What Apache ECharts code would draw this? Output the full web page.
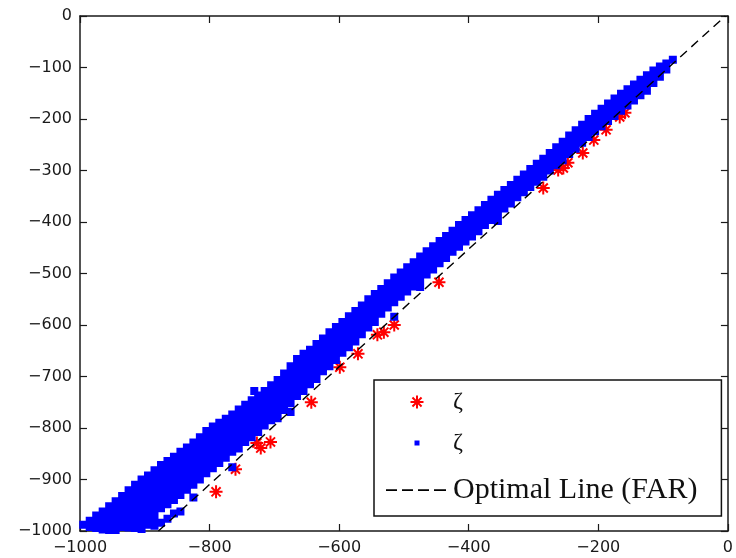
<!DOCTYPE html>
<html>
<head>
<meta charset="utf-8">
<script src="https://cdn.jsdelivr.net/npm/echarts@6.0.0/dist/echarts.min.js"></script>
<style>
  html, body { margin: 0; padding: 0; background: #fff; }
  #chart { width: 736px; height: 558px; }
</style>
</head>
<body>
<div id="chart"></div>
<script>
// Axis ranges and tick steps
const xRange = [-1000, 0];
const yRange = [-1000, 0];
const xStep = 200;
const yStep = 100;

// Red asterisk points
const redPoints = [
  [-790,-924],[-760,-880],[-727,-829],[-721,-839],[-706,-827],[-643,-750],
  [-599,-682],[-571,-656],[-541,-619],[-531,-614],[-515,-600],[-446,-517],
  [-285,-334],[-262,-299],[-254,-295],[-247,-285],[-224,-266],[-207,-241],
  [-188,-221],[-167,-196],[-159,-188]
];

// Blue dot cloud
const bluePoints = [
  [-995,-988],
  [-985,-980],[-985,-992],
  [-975,-970],[-975,-982],[-975,-994],
  [-965,-962],[-965,-974],[-965,-986],[-965,-997],
  [-955,-952],[-955,-964],[-955,-976],[-955,-988],[-955,-998],
  [-945,-942],[-945,-954],[-945,-966],[-945,-978],[-945,-990],[-945,-998],
  [-935,-932],[-935,-944],[-935,-956],[-935,-968],[-935,-980],[-935,-992],
  [-925,-921],[-925,-933],[-925,-945],[-925,-957],[-925,-969],[-925,-981],[-925,-993],
  [-915,-910],[-915,-922],[-915,-934],[-915,-946],[-915,-958],[-915,-970],[-915,-982],[-915,-994],
  [-905,-900],[-905,-912],[-905,-924],[-905,-936],[-905,-948],[-905,-960],[-905,-972],[-905,-984],[-905,-996],
  [-895,-892],[-895,-904],[-895,-916],[-895,-928],[-895,-940],[-895,-952],[-895,-964],[-895,-976],[-895,-988],
  [-885,-882],[-885,-894],[-885,-906],[-885,-918],[-885,-930],[-885,-942],[-885,-954],[-885,-966],[-885,-978],[-885,-990],
  [-875,-872],[-875,-884],[-875,-896],[-875,-908],[-875,-920],[-875,-932],[-875,-944],[-875,-956],[-875,-984],
  [-865,-864],[-865,-876],[-865,-888],[-865,-900],[-865,-912],[-865,-924],[-865,-936],[-865,-948],[-865,-976],
  [-855,-856],[-855,-868],[-855,-880],[-855,-892],[-855,-904],[-855,-916],[-855,-928],[-855,-940],[-855,-966],
  [-845,-846],[-845,-858],[-845,-870],[-845,-882],[-845,-894],[-845,-906],[-845,-918],[-845,-930],[-845,-962],
  [-835,-838],[-835,-850],[-835,-862],[-835,-874],[-835,-886],[-835,-898],[-835,-910],[-835,-920],
  [-825,-828],[-825,-840],[-825,-852],[-825,-864],[-825,-876],[-825,-888],[-825,-900],[-825,-910],[-825,-935],
  [-815,-818],[-815,-830],[-815,-842],[-815,-854],[-815,-866],[-815,-878],[-815,-890],[-815,-900],
  [-805,-806],[-805,-818],[-805,-830],[-805,-842],[-805,-854],[-805,-866],[-805,-878],[-805,-888],
  [-795,-797],[-795,-809],[-795,-821],[-795,-833],[-795,-845],[-795,-857],[-795,-869],[-795,-878],
  [-785,-790],[-785,-802],[-785,-814],[-785,-826],[-785,-838],[-785,-850],[-785,-862],[-785,-868],
  [-775,-782],[-775,-794],[-775,-806],[-775,-818],[-775,-830],[-775,-842],[-775,-854],[-775,-858],
  [-765,-774],[-765,-786],[-765,-798],[-765,-810],[-765,-822],[-765,-834],[-765,-846],[-765,-876],
  [-755,-764],[-755,-776],[-755,-788],[-755,-800],[-755,-812],[-755,-824],[-755,-836],[-755,-840],
  [-745,-755],[-745,-767],[-745,-779],[-745,-791],[-745,-803],[-745,-815],[-745,-827],
  [-735,-746],[-735,-758],[-735,-770],[-735,-782],[-735,-794],[-735,-806],[-735,-818],
  [-731,-728],
  [-725,-737],[-725,-749],[-725,-761],[-725,-773],[-725,-785],[-725,-797],[-725,-808],
  [-715,-728],[-715,-740],[-715,-752],[-715,-764],[-715,-776],[-715,-788],[-715,-795],
  [-705,-717],[-705,-729],[-705,-741],[-705,-753],[-705,-765],[-705,-777],[-705,-785],
  [-695,-707],[-695,-719],[-695,-731],[-695,-743],[-695,-755],[-695,-767],[-695,-781],
  [-685,-694],[-685,-706],[-685,-718],[-685,-730],[-685,-742],[-685,-754],[-685,-765],
  [-675,-680],[-675,-692],[-675,-704],[-675,-716],[-675,-728],[-675,-740],[-675,-752],[-675,-769],
  [-665,-666],[-665,-678],[-665,-690],[-665,-702],[-665,-714],[-665,-726],[-665,-738],
  [-655,-656],[-655,-668],[-655,-680],[-655,-692],[-655,-704],[-655,-716],[-655,-728],
  [-645,-648],[-645,-660],[-645,-672],[-645,-684],[-645,-696],[-645,-708],[-645,-715],
  [-635,-637],[-635,-649],[-635,-661],[-635,-673],[-635,-685],[-635,-697],[-635,-705],
  [-625,-626],[-625,-638],[-625,-650],[-625,-662],[-625,-674],[-625,-686],[-625,-690],
  [-615,-614],[-615,-626],[-615,-638],[-615,-650],[-615,-662],[-615,-674],[-615,-680],
  [-605,-604],[-605,-616],[-605,-628],[-605,-640],[-605,-652],[-605,-664],[-605,-668],
  [-595,-594],[-595,-606],[-595,-618],[-595,-630],[-595,-642],[-595,-654],
  [-585,-583],[-585,-595],[-585,-607],[-585,-619],[-585,-631],[-585,-643],
  [-575,-573],[-575,-585],[-575,-597],[-575,-609],[-575,-621],[-575,-632],
  [-565,-562],[-565,-574],[-565,-586],[-565,-598],[-565,-610],[-565,-618],
  [-555,-550],[-555,-562],[-555,-574],[-555,-586],[-555,-598],[-555,-605],
  [-545,-540],[-545,-552],[-545,-564],[-545,-576],[-545,-588],[-545,-594],
  [-535,-530],[-535,-542],[-535,-554],[-535,-566],[-535,-578],
  [-525,-519],[-525,-531],[-525,-543],[-525,-555],[-525,-566],
  [-515,-508],[-515,-520],[-515,-532],[-515,-544],[-515,-556],[-515,-584],
  [-505,-498],[-505,-510],[-505,-522],[-505,-534],[-505,-545],
  [-495,-488],[-495,-500],[-495,-512],[-495,-524],[-495,-535],
  [-485,-478],[-485,-490],[-485,-502],[-485,-514],[-485,-525],
  [-475,-467],[-475,-479],[-475,-491],[-475,-503],[-475,-512],[-475,-526],
  [-465,-457],[-465,-469],[-465,-481],[-465,-493],[-465,-502],
  [-455,-447],[-455,-459],[-455,-471],[-455,-483],[-455,-492],
  [-445,-437],[-445,-449],[-445,-461],[-445,-473],[-445,-480],
  [-435,-427],[-435,-439],[-435,-451],[-435,-463],[-435,-470],
  [-425,-417],[-425,-429],[-425,-441],[-425,-453],[-425,-458],
  [-415,-406],[-415,-418],[-415,-430],[-415,-442],[-415,-448],
  [-405,-396],[-405,-408],[-405,-420],[-405,-432],[-405,-438],
  [-395,-387],[-395,-399],[-395,-411],[-395,-423],[-395,-428],
  [-385,-377],[-385,-389],[-385,-401],[-385,-413],[-385,-418],
  [-375,-367],[-375,-379],[-375,-391],[-375,-403],[-375,-406],
  [-365,-357],[-365,-369],[-365,-381],[-365,-393],[-365,-396],
  [-355,-347],[-355,-359],[-355,-371],[-355,-383],[-355,-398],
  [-345,-338],[-345,-350],[-345,-362],[-345,-374],
  [-335,-328],[-335,-340],[-335,-352],[-335,-364],
  [-325,-318],[-325,-330],[-325,-342],[-325,-352],
  [-315,-308],[-315,-320],[-315,-332],[-315,-342],
  [-305,-297],[-305,-309],[-305,-321],[-305,-332],
  [-295,-287],[-295,-299],[-295,-311],[-295,-322],
  [-285,-277],[-285,-289],[-285,-301],[-285,-312],
  [-275,-266],[-275,-278],[-275,-290],[-275,-300],
  [-265,-255],[-265,-267],[-265,-279],[-265,-290],
  [-255,-244],[-255,-256],[-255,-268],[-255,-280],
  [-245,-232],[-245,-244],[-245,-256],[-245,-268],
  [-235,-222],[-235,-234],[-235,-246],[-235,-258],
  [-225,-211],[-225,-223],[-225,-235],[-225,-246],
  [-215,-200],[-215,-212],[-215,-224],[-215,-235],
  [-205,-190],[-205,-202],[-205,-214],[-205,-224],
  [-195,-180],[-195,-192],[-195,-204],[-195,-214],
  [-185,-170],[-185,-182],[-185,-194],[-185,-204],
  [-175,-160],[-175,-172],[-175,-184],[-175,-194],
  [-165,-151],[-165,-163],[-165,-175],[-165,-184],
  [-155,-142],[-155,-154],[-155,-166],[-155,-174],
  [-145,-133],[-145,-145],[-145,-157],[-145,-164],
  [-135,-124],[-135,-136],[-135,-148],[-135,-154],
  [-125,-115],[-125,-127],[-125,-139],[-125,-145],
  [-115,-106],[-115,-118],[-115,-130],
  [-105,-98],[-105,-110],[-105,-118],
  [-95,-92],[-95,-104],
  [-85,-85]
];

// Reference line end points
const optimalLine = [[-879, -1000], [-4, 0]];

// Legend labels per series
const seriesNames = ['cRed', 'cBlue', 'Optimal Line (FAR)'];
const legendLabels = { cRed: 'ζ', cBlue: 'ζ', 'Optimal Line (FAR)': 'Optimal Line (FAR)' };

const asteriskPath = 'path://M0 10L20 10M10 0L10 20M3 3L17 17M17 3L3 17';
const dotIconPath = 'path://M0 0M13 13M4 4L9 4L9 9L4 9Z';
const dashIconPath = 'path://M0 0M62 13M0 5.8h11v1.6h-11zM16 5.8h11v1.6h-11zM32 5.8h11v1.6h-11zM48 5.8h12v1.6h-12z';

const minusFmt = v => String(v).replace('-', '\u2212');
const axisColor = '#1a1a1a';
const labelStyle = { fontFamily: 'DejaVu Sans', fontSize: 16, color: '#1a1a1a' };

const chart = echarts.init(document.getElementById('chart'), null, { renderer: 'canvas' });

chart.setOption({
  animation: false,
  backgroundColor: '#ffffff',
  grid: { left: 80, right: 4, top: 16, bottom: 27, containLabel: false },
  xAxis: [
    {
      type: 'value', position: 'bottom', min: xRange[0], max: xRange[1], interval: xStep,
      axisLine: { show: true, onZero: false, lineStyle: { color: axisColor, width: 1.5 } },
      axisTick: { show: true, inside: true, length: 7, lineStyle: { color: axisColor, width: 1.2 } },
      axisLabel: Object.assign({ margin: 9, formatter: minusFmt, showMinLabel: true, showMaxLabel: true }, labelStyle),
      splitLine: { show: false }
    },
    {
      type: 'value', position: 'top', min: xRange[0], max: xRange[1], interval: xStep,
      axisLine: { show: true, onZero: false, lineStyle: { color: axisColor, width: 1.5 } },
      axisTick: { show: true, inside: true, length: 7, lineStyle: { color: axisColor, width: 1.2 } },
      axisLabel: { show: false },
      splitLine: { show: false }
    }
  ],
  yAxis: [
    {
      type: 'value', position: 'left', min: yRange[0], max: yRange[1], interval: yStep,
      axisLine: { show: true, onZero: false, lineStyle: { color: axisColor, width: 1.5 } },
      axisTick: { show: true, inside: true, length: 7, lineStyle: { color: axisColor, width: 1.2 } },
      axisLabel: Object.assign({ margin: 8, formatter: minusFmt, showMinLabel: true, showMaxLabel: true }, labelStyle),
      splitLine: { show: false }
    },
    {
      type: 'value', position: 'right', min: yRange[0], max: yRange[1], interval: yStep,
      axisLine: { show: true, onZero: false, lineStyle: { color: axisColor, width: 1.5 } },
      axisTick: { show: true, inside: true, length: 7, lineStyle: { color: axisColor, width: 1.2 } },
      axisLabel: { show: false },
      splitLine: { show: false }
    }
  ],
  legend: {
    orient: 'vertical',
    left: 374, top: 380,
    backgroundColor: '#ffffff',
    borderColor: '#111111', borderWidth: 1.5, borderRadius: 0,
    padding: [10, 24, 8, 12],
    itemWidth: 62, itemHeight: 13, itemGap: 17,
    symbolKeepAspect: true,
    selectedMode: false,
    formatter: name => legendLabels[name],
    textStyle: { fontFamily: 'Liberation Serif', fontSize: 24, color: '#111', lineHeight: 20 },
    data: [
      { name: seriesNames[0], icon: asteriskPath,
        itemStyle: { color: 'rgba(0,0,0,0)', borderColor: '#ff0000', borderWidth: 2 } },
      { name: seriesNames[1], icon: dotIconPath,
        itemStyle: { color: '#0000ff', borderWidth: 0 } },
      { name: seriesNames[2], icon: dashIconPath,
        itemStyle: { color: '#000000', borderWidth: 0 },
        textStyle: { fontFamily: 'Liberation Serif', fontSize: 30, lineHeight: 36, color: '#111' } }
    ]
  },
  series: [
    {
      name: seriesNames[0], type: 'scatter', data: redPoints,
      symbol: asteriskPath, symbolSize: 13,
      itemStyle: { color: 'rgba(0,0,0,0)', borderColor: '#ff0000', borderWidth: 2, opacity: 1 },
      z: 2
    },
    {
      name: seriesNames[1], type: 'scatter', data: bluePoints,
      symbol: 'rect', symbolSize: 8,
      large: true, largeThreshold: 50,
      itemStyle: { color: '#0000ff', opacity: 1 },
      z: 3
    },
    {
      name: seriesNames[2], type: 'line', data: optimalLine,
      symbol: 'none',
      lineStyle: { color: '#000', width: 1.4, type: [9, 6] },
      z: 4
    }
  ]
});
</script>
</body>
</html>
